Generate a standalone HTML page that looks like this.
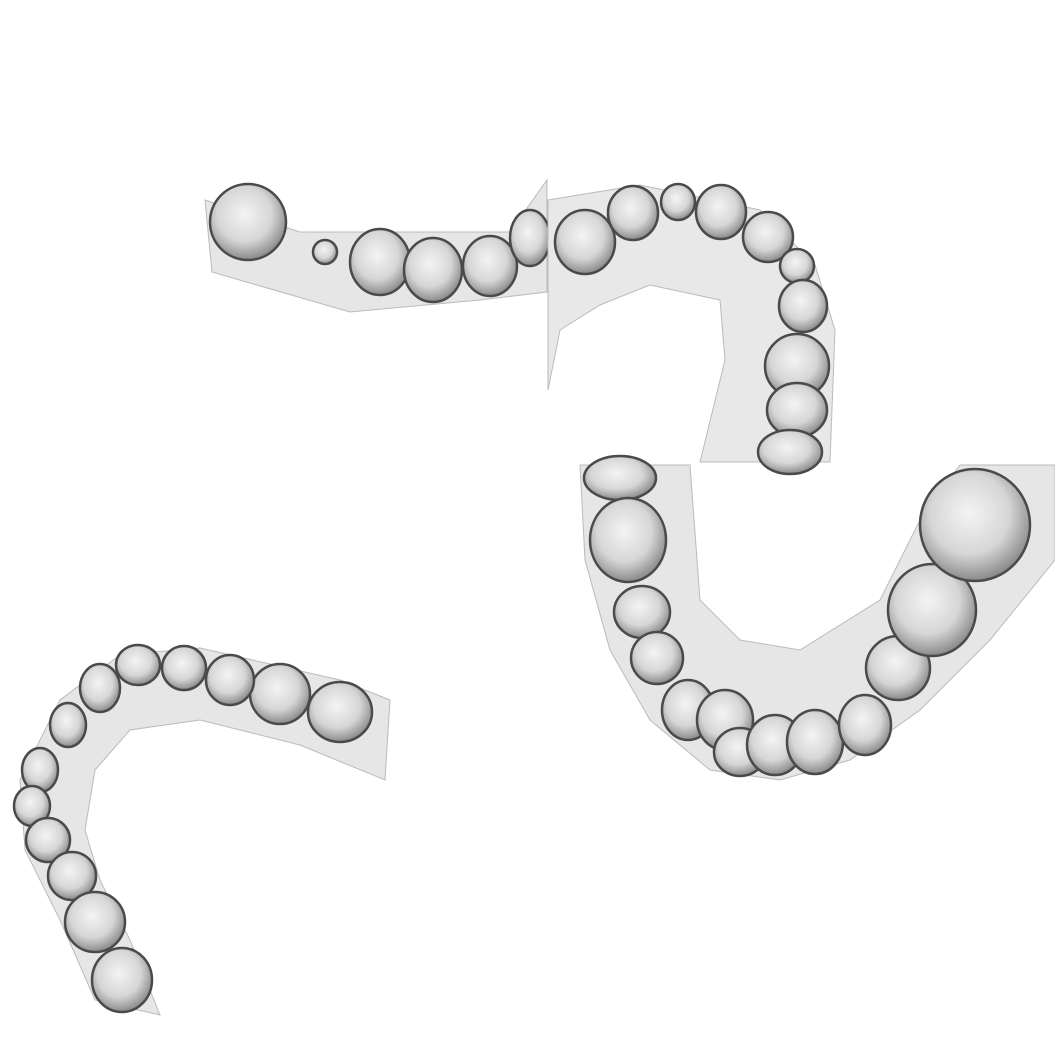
<!DOCTYPE html>
<html><head><meta charset="utf-8"><style>
html,body{margin:0;padding:0;background:#fff;width:1055px;height:1055px;overflow:hidden}
svg{display:block}
</style></head><body>
<svg width="1055" height="1055" viewBox="0 0 1055 1055">
<defs>
<radialGradient id="tooth" cx="45%" cy="40%" r="60%">
<stop offset="0" stop-color="#f4f4f4"/><stop offset="0.6" stop-color="#d6d6d6"/><stop offset="1" stop-color="#8a8a8a"/>
</radialGradient>
</defs>
<g fill="url(#tooth)" stroke="#4a4a4a" stroke-width="2.5">

<g>
<path d="M205,200 L300,232 L510,232 L547,180 L547,292 L480,300 L350,312 L212,272 Z" fill="#e6e6e6" stroke="#bbb" stroke-width="1"/>
<circle cx="248" cy="222" r="38"/>
<circle cx="325" cy="252" r="12"/>
<ellipse cx="380" cy="262" rx="30" ry="33"/>
<ellipse cx="433" cy="270" rx="29" ry="32"/>
<ellipse cx="490" cy="266" rx="27" ry="30"/>
<ellipse cx="530" cy="238" rx="20" ry="28"/>
</g>

<g>
<path d="M548,200 L640,185 L760,210 L815,265 L835,330 L830,462 L700,462 L725,360 L720,300 L650,285 L600,305 L560,330 L548,390 Z" fill="#e8e8e8" stroke="#bbb" stroke-width="1"/>
<ellipse cx="585" cy="242" rx="30" ry="32"/>
<ellipse cx="633" cy="213" rx="25" ry="27"/>
<ellipse cx="678" cy="202" rx="17" ry="18"/>
<ellipse cx="721" cy="212" rx="25" ry="27"/>
<ellipse cx="768" cy="237" rx="25" ry="25"/>
<ellipse cx="797" cy="266" rx="17" ry="17"/>
<ellipse cx="803" cy="306" rx="24" ry="26"/>
<ellipse cx="797" cy="366" rx="32" ry="32"/>
<ellipse cx="797" cy="410" rx="30" ry="27"/>
<ellipse cx="790" cy="452" rx="32" ry="22"/>
</g>

<g>
<path d="M390,700 L340,680 L200,648 L120,655 L60,700 L20,780 L25,850 L60,920 L95,1000 L160,1015 L130,940 L100,880 L85,830 L95,770 L130,730 L200,720 L300,745 L385,780 Z" fill="#e6e6e6" stroke="#bbb" stroke-width="1"/>
<ellipse cx="340" cy="712" rx="32" ry="30"/>
<ellipse cx="280" cy="694" rx="30" ry="30"/>
<ellipse cx="230" cy="680" rx="24" ry="25"/>
<ellipse cx="184" cy="668" rx="22" ry="22"/>
<ellipse cx="138" cy="665" rx="22" ry="20"/>
<ellipse cx="100" cy="688" rx="20" ry="24"/>
<ellipse cx="68" cy="725" rx="18" ry="22"/>
<ellipse cx="40" cy="770" rx="18" ry="22"/>
<ellipse cx="32" cy="806" rx="18" ry="20"/>
<ellipse cx="48" cy="840" rx="22" ry="22"/>
<ellipse cx="72" cy="876" rx="24" ry="24"/>
<ellipse cx="95" cy="922" rx="30" ry="30"/>
<ellipse cx="122" cy="980" rx="30" ry="32"/>
</g>

<g>
<path d="M580,465 L690,465 L700,600 L740,640 L800,650 L880,600 L920,520 L960,465 L1055,465 L1055,560 L990,640 L920,710 L850,760 L780,780 L710,770 L650,720 L610,650 L585,560 Z" fill="#e6e6e6" stroke="#bbb" stroke-width="1"/>
<ellipse cx="620" cy="478" rx="36" ry="22"/>
<ellipse cx="628" cy="540" rx="38" ry="42"/>
<ellipse cx="642" cy="612" rx="28" ry="26"/>
<ellipse cx="657" cy="658" rx="26" ry="26"/>
<ellipse cx="688" cy="710" rx="26" ry="30"/>
<ellipse cx="725" cy="720" rx="28" ry="30"/>
<ellipse cx="740" cy="752" rx="26" ry="24"/>
<ellipse cx="775" cy="745" rx="28" ry="30"/>
<ellipse cx="815" cy="742" rx="28" ry="32"/>
<ellipse cx="865" cy="725" rx="26" ry="30"/>
<ellipse cx="898" cy="668" rx="32" ry="32"/>
<ellipse cx="932" cy="610" rx="44" ry="46"/>
<ellipse cx="975" cy="525" rx="55" ry="56"/>
</g>

</g>
</svg>
</body></html>
